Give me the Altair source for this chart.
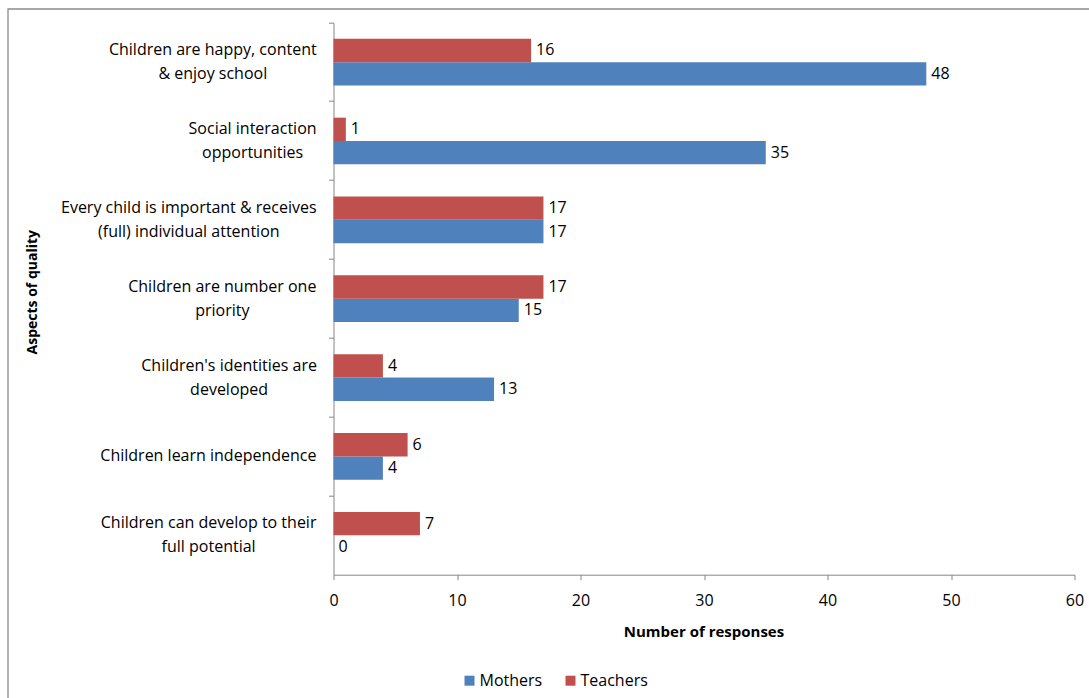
import json

import altair as alt
import pandas as pd

# Aspects of quality, top to bottom; "\n" marks the line break in the axis label
categories = [
    "Children are happy, content\n& enjoy school",
    "Social interaction\nopportunities",
    "Every child is important & receives\n(full) individual attention",
    "Children are number one\npriority",
    "Children's identities are\ndeveloped",
    "Children learn independence",
    "Children can develop to their\nfull potential",
]
mothers = [48, 35, 17, 15, 13, 4, 0]
teachers = [16, 1, 17, 17, 4, 6, 7]

series = ["Mothers", "Teachers"]
colors = ["#4F81BD", "#C0504D"]

rows = []
for c, m, t in zip(categories, mothers, teachers):
    rows.append({"aspect": c, "group": "Mothers", "responses": m})
    rows.append({"aspect": c, "group": "Teachers", "responses": t})
df = pd.DataFrame(rows)

FONT = "Open Sans"
AXIS_GREY = "#868686"
TEXT_SIZE = 16

# Approximate Open Sans advance widths (font units, 2048 per em), used to
# centre the lines of each category label inside a right-aligned block.
ADVANCE = {
    " ": 532, "&": 1468, "'": 342, "(": 586, ")": 586, ",": 500,
    "C": 1292, "E": 1124, "S": 1096,
    "a": 1139, "b": 1255, "c": 975, "d": 1255, "e": 1149, "f": 694,
    "g": 1122, "h": 1257, "i": 518, "j": 518, "k": 1075, "l": 518,
    "m": 1905, "n": 1257, "o": 1237, "p": 1255, "q": 1255, "r": 836,
    "s": 977, "t": 723, "u": 1257, "v": 1026, "w": 1593, "x": 1073,
    "y": 1028, "z": 977,
}


def text_width(s, size):
    return sum(ADVANCE.get(ch, 1150) for ch in s) / 2048 * size


TICK = 5
GAP = 12.5  # space between the widest label line and the tick
pads = [
    round(GAP + max(text_width(line, TEXT_SIZE) for line in c.split("\n")) / 2, 1)
    for c in categories
]
pad_expr = f"{json.dumps(pads)}[indexof({json.dumps(categories)}, datum.value)]"

y_enc = alt.Y(
    "aspect:N",
    sort=categories,
    scale=alt.Scale(paddingInner=0, paddingOuter=0),
    axis=alt.Axis(
        title="Aspects of quality",
        titleFont=FONT,
        titleFontSize=14,
        titleFontWeight="bold",
        titleColor="#000000",
        titleX=-301,
        titleY=269,
        titleBaseline="middle",
        titleAngle=-90,
        labelExpr="split(datum.label, '\\n')",
        labelAlign="center",
        # two-line labels are lifted half a line so the block sits centred
        labelBaseline={"expr": "indexof(datum.label, '\\n') >= 0 ? 'line-bottom' : 'middle'"},
        labelPadding={"expr": pad_expr},
        labelLineHeight=24,
        labelFont=FONT,
        labelFontSize=TEXT_SIZE,
        labelColor="#000000",
        labelLimit=400,
        bandPosition=0,
        tickSize=TICK,
        tickColor=AXIS_GREY,
        domainColor=AXIS_GREY,
        grid=False,
    ),
)

x_enc = alt.X(
    "responses:Q",
    scale=alt.Scale(domain=[0, 60], nice=False),
    axis=alt.Axis(
        title="Number of responses",
        values=[0, 10, 20, 30, 40, 50, 60],
        titleFont=FONT,
        titleFontSize=15,
        titleFontWeight="bold",
        titleColor="#000000",
        titleX=370,
        titleY=57,
        titleBaseline="middle",
        labelFont=FONT,
        labelFontSize=TEXT_SIZE,
        labelColor="#000000",
        labelPadding=13,
        labelFlush=False,
        tickSize=TICK,
        tickColor=AXIS_GREY,
        domainColor=AXIS_GREY,
        grid=False,
    ),
)

offset_enc = alt.YOffset(
    "group:N",
    sort=["Teachers", "Mothers"],
    scale=alt.Scale(paddingInner=0, paddingOuter=0.69),
)

color_enc = alt.Color(
    "group:N",
    scale=alt.Scale(domain=series, range=colors),
    legend=alt.Legend(
        title=None,
        orient="none",
        direction="horizontal",
        legendX=128,
        legendY=650,
        symbolType="square",
        symbolSize=100,
        symbolStrokeWidth=0,
        symbolOpacity=1,
        labelFont=FONT,
        labelFontSize=TEXT_SIZE,
        labelColor="#000000",
        labelOffset=2,
        columnPadding=20,
        padding=0,
    ),
)

base = alt.Chart(df)

bars = base.mark_bar(opacity=1).encode(
    y=y_enc, x=x_enc, yOffset=offset_enc, color=color_enc
)

labels = base.mark_text(
    align="left", baseline="middle", dx=5, font=FONT, fontSize=TEXT_SIZE, color="#000000"
).encode(
    y=alt.Y("aspect:N", sort=categories),
    x=alt.X("responses:Q"),
    yOffset=offset_enc,
    text=alt.Text("responses:Q"),
)

# outer chart-area frame
frame = alt.Chart(pd.DataFrame({"k": [0]})).mark_rect(
    fill=None, stroke="#8C8C8C", strokeWidth=1.3
).encode(
    x=alt.value(-325.5),
    x2=alt.value(770),
    y=alt.value(-13.7),
    y2=alt.value(700),
)

chart = (
    alt.layer(frame, bars, labels)
    .properties(
        width=741,
        height=552,
        padding={"left": 333.5, "top": 22.7, "right": 14.5, "bottom": 123.3},
        autosize=alt.AutoSizeParams(type="none"),
        background="#FFFFFF",
    )
    .configure_view(stroke=None)
)

chart.save("out.html", embed_options={"renderer": "svg", "actions": False})
